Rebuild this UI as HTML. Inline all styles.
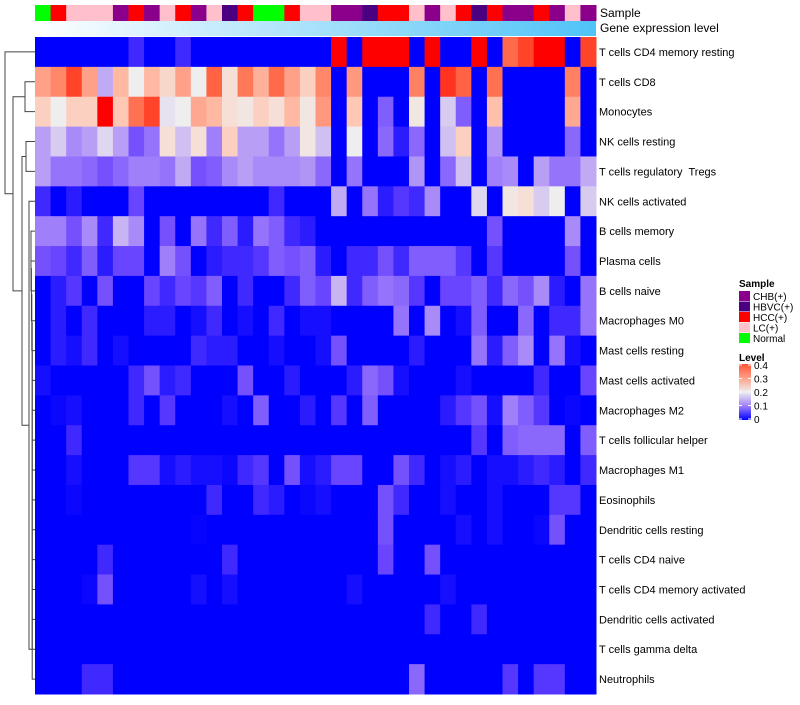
<!DOCTYPE html>
<html><head><meta charset="utf-8"><style>
body{margin:0;background:#fff;width:800px;height:700px;overflow:hidden;font-family:"Liberation Sans",sans-serif}
svg text{font-family:"Liberation Sans",sans-serif;white-space:pre}
</style></head><body>
<svg id="chart" width="800" height="700"></svg>
<script>
const rowLabels=["T cells CD4 memory resting","T cells CD8","Monocytes","NK cells resting","T cells regulatory  Tregs","NK cells activated","B cells memory","Plasma cells","B cells naive","Macrophages M0","Mast cells resting","Mast cells activated","Macrophages M2","T cells follicular helper","Macrophages M1","Eosinophils","Dendritic cells resting","T cells CD4 naive","T cells CD4 memory activated","Dendritic cells activated","T cells gamma delta","Neutrophils"];
const sampleGroups=["Normal","HCC","LC","LC","LC","CHB","HCC","CHB","LC","HCC","CHB","LC","HBVC","HCC","Normal","Normal","HCC","LC","LC","CHB","CHB","HBVC","HCC","HCC","LC","CHB","LC","HCC","HBVC","HCC","CHB","CHB","HCC","CHB","LC","CHB"];
const legendLabels=["CHB(+)","HBVC(+)","HCC(+)","LC(+)","Normal"];
const levelTicks=[0,0.1,0.2,0.3,0.4];
const r0=[0,0,0,0,0,0,0.03,0,0,0.03,0,0,0,0,0,0,0,0,0,0.5,0,0.5,0.5,0.5,0,0.5,0,0,0.5,0,0.37,0.42,0.5,0.5,0,0.42];
const r1=[0.3,0.33,0.42,0.3,0.14,0.27,0.2,0.27,0.23,0.3,0.2,0.38,0.22,0.35,0.28,0.37,0.3,0.24,0.33,0,0.31,0,0,0,0.34,0,0.44,0.38,0,0.36,0,0,0,0,0.34,0];
const r2=[0.24,0.2,0.24,0.24,0.5,0.25,0.36,0.42,0.19,0.2,0.29,0.27,0.22,0.21,0.24,0.22,0.27,0.21,0.31,0,0.25,0,0.07,0,0.21,0,0.17,0.07,0,0.26,0,0,0,0,0.29,0];
const r3=[0.13,0.17,0.11,0.13,0.18,0.13,0.06,0.09,0.22,0.16,0.22,0.1,0.24,0.13,0.13,0.09,0.13,0.21,0.16,0,0.2,0,0.08,0.02,0.08,0,0.16,0.24,0,0.12,0,0,0,0,0.08,0];
const r4=[0.13,0.09,0.09,0.08,0.06,0.08,0.1,0.1,0.09,0.14,0.06,0.07,0.11,0.13,0.11,0.11,0.11,0.12,0.08,0,0.09,0,0,0,0.12,0,0.08,0.16,0,0.1,0.11,0,0.13,0.09,0.09,0.14];
const r5=[0.03,0,0.02,0,0,0,0.05,0,0,0,0,0,0,0,0,0.03,0,0,0,0.14,0,0.09,0.02,0.04,0.03,0.11,0,0,0.18,0,0.21,0.22,0.17,0.2,0,0.17];
const r6=[0.1,0.1,0.06,0.11,0.03,0.15,0.11,0,0.06,0,0.09,0.03,0.07,0.02,0.09,0.07,0.03,0.02,0,0,0,0,0,0,0,0,0,0,0,0.06,0,0,0,0,0.11,0];
const r7=[0.06,0.05,0.03,0.07,0.02,0.05,0.05,0,0.1,0.06,0,0.02,0.03,0.03,0.04,0.07,0.06,0.07,0.02,0,0.03,0.03,0.06,0.03,0.07,0.07,0.07,0.04,0,0.04,0,0,0,0,0.06,0];
const r8=[0,0.02,0.04,0,0.06,0,0,0.05,0.03,0.05,0.04,0.07,0,0.03,0,0,0.03,0.07,0.05,0.15,0.03,0.07,0.09,0.08,0.04,0,0.05,0.05,0.07,0.03,0.08,0.06,0.11,0.02,0,0.09];
const r9=[0,0.02,0,0.03,0,0,0,0.02,0.02,0,0.01,0.03,0,0.01,0,0.03,0,0.01,0.01,0,0,0,0,0.09,0,0.11,0,0.01,0.07,0,0,0.08,0,0.03,0.03,0.09];
const r10=[0,0.02,0.01,0.03,0,0.01,0,0,0,0,0.03,0.02,0.02,0,0,0.01,0,0,0.01,0.06,0,0,0,0,0.02,0,0,0,0.09,0.02,0.07,0.11,0,0.09,0.01,0];
const r11=[0.01,0,0,0,0,0,0.03,0.06,0.02,0.03,0,0,0,0.06,0,0,0.02,0,0,0,0.02,0.08,0.06,0.01,0,0,0,0.01,0,0,0,0,0.03,0,0,0.05];
const r12=[0,0.005,0.01,0,0,0,0.03,0,0.04,0,0,0,0.01,0,0.07,0,0,0.02,0,0.04,0,0.07,0,0,0,0,0.02,0.04,0.06,0.01,0.1,0.07,0.04,0,0.005,0];
const r13=[0,0,0.03,0,0,0,0,0,0,0,0,0,0,0,0,0,0,0,0,0,0,0,0,0,0,0,0,0,0.04,0,0.07,0.08,0.08,0.08,0,0.07];
const r14=[0,0,0.01,0,0,0,0.04,0.04,0.01,0.02,0.01,0.01,0.005,0.03,0.04,0,0.06,0.01,0.02,0.05,0.05,0,0,0.06,0.03,0,0.01,0.02,0,0.01,0.01,0.02,0.03,0.02,0,0.03];
const r15=[0,0,0.005,0,0,0,0,0,0,0,0,0.03,0,0,0.03,0.02,0,0.005,0.01,0,0,0,0.06,0.03,0,0,0.01,0,0,0.01,0,0,0,0.04,0.04,0];
const r16=[0,0,0,0,0,0,0,0,0,0,0.003,0,0,0,0,0,0,0,0,0,0,0,0.06,0,0,0,0,0.01,0,0.01,0,0,0.005,0.06,0,0];
const r17=[0,0,0,0,0.03,0,0,0,0,0,0,0,0.03,0,0,0,0,0,0,0,0,0,0.05,0,0,0.06,0,0,0,0,0,0,0,0,0,0];
const r18=[0,0,0,0.005,0.06,0,0,0,0,0,0.01,0,0.01,0,0,0,0,0,0,0,0.01,0,0,0,0,0,0.01,0,0,0,0,0,0,0,0,0];
const r19=[0,0,0,0,0,0,0,0,0,0,0,0,0,0,0,0,0,0,0,0,0,0,0,0,0,0.03,0,0,0.03,0,0,0,0,0,0,0];
const r20=[0,0,0,0,0,0,0,0,0,0,0,0,0,0,0,0,0,0,0,0,0,0,0,0,0,0,0,0,0,0,0,0,0,0,0,0];
const r21=[0,0,0,0.03,0.03,0,0,0,0,0,0,0,0,0,0,0,0,0,0,0,0,0,0,0,0.08,0,0,0,0,0,0.04,0,0.04,0.04,0,0];
const values=[r0,r1,r2,r3,r4,r5,r6,r7,r8,r9,r10,r11,r12,r13,r14,r15,r16,r17,r18,r19,r20,r21];

const NS="http://www.w3.org/2000/svg";
const svg=document.getElementById('chart');
function mk(tag,attrs,parent){const e=document.createElementNS(NS,tag);for(const k in attrs)e.setAttribute(k,attrs[k]);(parent||svg).appendChild(e);return e;}
const groupColor={CHB:"#8B008B",HBVC:"#4B0082",HCC:"#FF0000",LC:"#FFC0CB",Normal:"#00FF00"};
const stops=[[0,[0,0,255]],[0.05,[106,69,255]],[0.1,[160,128,250]],[0.15,[200,180,242]],[0.2,[238,238,238]],[0.25,[255,200,180]],[0.3,[255,160,136]],[0.35,[255,120,88]],[0.4,[255,85,53]],[0.5,[255,0,0]]];
function color(v){if(v<=0)return"rgb(0,0,255)";if(v>=0.5)return"rgb(255,0,0)";for(let i=1;i<stops.length;i++){if(v<=stops[i][0]){const a=stops[i-1],b=stops[i],t=(v-a[0])/(b[0]-a[0]);return"rgb("+a[1].map((c,j)=>Math.round(c+(b[1][j]-c)*t)).join(",")+")";}}}
const X0=35,X1=596,Y0=37,Y1=694;
const nC=sampleGroups.length,nR=rowLabels.length;
const cw=(X1-X0)/nC,rh=(Y1-Y0)/nR;
const xs=i=>X0+i*cw, ys=j=>Y0+j*rh;

sampleGroups.forEach((g,i)=>{const r=mk('rect',{x:xs(i),y:5,width:cw+0.5,height:16,fill:groupColor[g]});

});
const defs=mk('defs',{});
const lg=mk('linearGradient',{id:'ge',x1:'0',x2:'1',y1:'0',y2:'0'},defs);
mk('stop',{offset:'0','stop-color':'#ffffff'},lg);mk('stop',{offset:'1','stop-color':'#4fc3f7'},lg);
const ge=mk('rect',{x:X0,y:21,width:X1-X0,height:15,fill:'url(#ge)'});


const t1=mk('text',{x:600,y:17,'font-size':12});t1.textContent="Sample";


const t2=mk('text',{x:600,y:32,'font-size':12});t2.textContent="Gene expression level";



values.forEach((row,j)=>row.forEach((v,i)=>{const c=mk('rect',{x:xs(i),y:ys(j),width:cw+0.5,height:rh+0.5,fill:color(v)});

}));
rowLabels.forEach((l,j)=>{const t=mk('text',{x:599,y:ys(j)+rh/2+4,'font-size':11});t.textContent=l;

});

const cy=j=>ys(j)+rh/2;
const dg=mk('g',{stroke:'#444','stroke-width':1,fill:'none'});


function link(x,yA,yB,xA,xB){mk('path',{d:`M${xA},${yA}H${x}V${yB}H${xB}`},dg);}
link(25,cy(1),cy(2),35,35);const n2=(cy(1)+cy(2))/2;
link(26,cy(3),cy(4),35,35);const n4=(cy(3)+cy(4))/2;
link(31,cy(6),cy(7),35,35);let prevY=(cy(6)+cy(7))/2,prevX=31;
for(let j=8;j<nR;j++){const nx=31+Math.min(j-8,3)*0.4;link(nx,prevY,cy(j),prevX,35);prevY=(prevY+cy(j))/2;prevX=nx;}
link(29,prevY,cy(5),prevX,35);const n5=(prevY+cy(5))/2;
link(22,n4,n5,26,29);const n3=(n4+n5)/2;
link(13,n2,n3,25,22);const n1=(n2+n3)/2;
link(5,cy(0),n1,35,13);

const lgG=mk('g',{});


const lt=mk('text',{x:739,y:287,'font-size':10,'font-weight':'bold'},lgG);lt.textContent="Sample";
legendLabels.forEach((l,i)=>{const key=l.replace("(+)","");
const sw=mk('rect',{x:739,y:291+i*10.5,width:11,height:10,fill:groupColor[key]},lgG);


const t=mk('text',{x:753,y:300+i*10.5,'font-size':10},lgG);t.textContent=l;

});
const lev=mk('text',{x:739,y:361,'font-size':10,'font-weight':'bold'});lev.textContent="Level";


const lg2=mk('linearGradient',{id:'lv',x1:'0',x2:'0',y1:'1',y2:'0'},defs);
[[0,'#0000ff'],[0.25,'#a080fa'],[0.5,'#eeeeee'],[0.75,'#ffa088'],[1,'#ff5535']].forEach(s=>mk('stop',{offset:s[0],'stop-color':s[1]},lg2));
const bar=mk('rect',{x:739,y:364,width:12,height:56,fill:'url(#lv)'});


levelTicks.forEach(v=>{const y=420-v/0.4*54-1;mk('line',{x1:739,x2:742,y1:y,y2:y,stroke:'#fff'});mk('line',{x1:748,x2:751,y1:y,y2:y,stroke:'#fff'});
const t=mk('text',{x:754,y:y+4,'font-size':10});t.textContent=String(v);

});
</script>
</body></html>
